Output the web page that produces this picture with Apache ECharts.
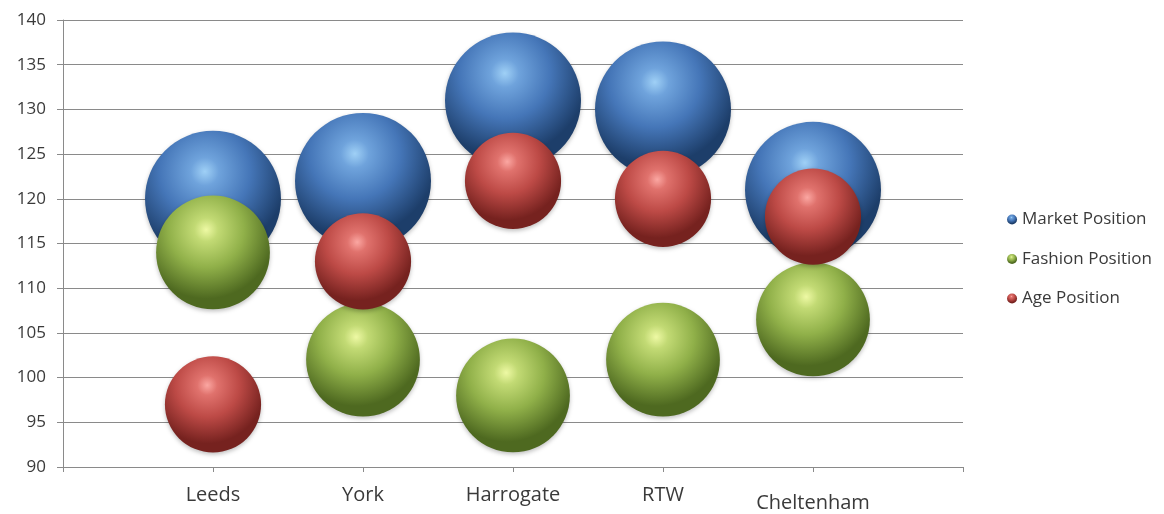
<!DOCTYPE html>
<html>
<head>
<meta charset="utf-8">
<script src="https://cdn.jsdelivr.net/npm/echarts@6/dist/echarts.min.js"></script>
<style>
  html, body { margin: 0; padding: 0; background: #fff; }
  #chart { width: 1164px; height: 514px; }
</style>
</head>
<body>
<div id="chart"></div>
<script>
// Store locations shown along the horizontal axis
const categories = ['Leeds', 'York', 'Harrogate', 'RTW', 'Cheltenham'];

// Position scores per store
const marketPosition  = [120, 122, 131, 130, 121];
const fashionPosition = [114, 102, 98, 102, 106.5];
const agePosition     = [97, 113, 122, 120, 118];

// Bubble size values per store
const marketSize  = [10, 10, 10, 10, 10];
const fashionSize = [7, 7, 7, 7, 7];
const ageSize     = [5, 5, 5, 5, 5];

const yTicks = { min: 90, max: 140, step: 5 };

// Glossy sphere look: small highlight up-left, darker rim toward the bottom
function sphere(light, soft, mid, dark) {
  return {
    type: 'radial', x: 0.44, y: 0.3, r: 0.74,
    colorStops: [
      { offset: 0, color: light },
      { offset: 0.14, color: soft },
      { offset: 0.45, color: mid },
      { offset: 0.82, color: dark },
      { offset: 1, color: dark }
    ]
  };
}

function buildData(values, sizes) {
  return values.map((v, i) => [i + 1, v, sizes[i]]);
}

const bubbleScale = 43;

function bubbleSeries(name, values, sizes, fill) {
  return {
    name: name,
    type: 'scatter',
    data: buildData(values, sizes),
    symbolSize: d => bubbleScale * Math.sqrt(d[2]),
    itemStyle: {
      color: fill,
      opacity: 1,
      shadowBlur: 4,
      shadowColor: 'rgba(0,0,0,0.25)',
      shadowOffsetY: 2
    },
    emphasis: { disabled: true }
  };
}

const chart = echarts.init(document.getElementById('chart'), null, { renderer: 'canvas' });

const font = '"Open Sans", "Liberation Sans", sans-serif';
const textColor = '#3a3a3a';
const lineColor = '#8a8a8a';

chart.setOption({
  animation: false,
  backgroundColor: '#ffffff',
  grid: { left: 63, right: 201, top: 20, bottom: 47 },
  legend: {
    orient: 'vertical',
    right: 7,
    top: 206,
    icon: 'circle',
    itemWidth: 10,
    itemHeight: 10,
    itemGap: 22.5,
    textStyle: { fontFamily: font, fontSize: 17, color: textColor },
    data: ['Market Position', 'Fashion Position', 'Age Position']
  },
  xAxis: {
    type: 'value',
    min: 0,
    max: categories.length + 1,
    interval: 1,
    splitLine: { show: false },
    axisLine: { show: true, lineStyle: { color: lineColor, width: 1 } },
    axisTick: { show: true, length: 5, lineStyle: { color: lineColor } },
    axisLabel: {
      margin: 18,
      fontFamily: font,
      fontSize: 20,
      color: textColor,
      formatter: v => {
        const name = categories[v - 1] || '';
        return v === categories.length ? '{low|' + name + '}' : name;
      },
      rich: { low: { fontFamily: font, fontSize: 20, color: textColor, padding: [8, 0, 0, 0] } }
    }
  },
  yAxis: {
    type: 'value',
    min: yTicks.min,
    max: yTicks.max,
    interval: yTicks.step,
    axisLine: { show: true, lineStyle: { color: lineColor, width: 1 } },
    axisTick: { show: true, length: 6, lineStyle: { color: lineColor } },
    splitLine: { show: true, lineStyle: { color: lineColor, width: 1 } },
    axisLabel: { margin: 17, fontFamily: font, fontSize: 17, color: textColor }
  },
  series: [
    bubbleSeries('Market Position', marketPosition, marketSize,
      sphere('#9fd0f6', '#6fa3dc', '#4576b8', '#1d3e6a')),
    bubbleSeries('Fashion Position', fashionPosition, fashionSize,
      sphere('#eef9a4', '#c2da74', '#90b049', '#4e6920')),
    bubbleSeries('Age Position', agePosition, ageSize,
      sphere('#fba7a2', '#e0726d', '#bd4a46', '#76221f'))
  ]
});
</script>
</body>
</html>
